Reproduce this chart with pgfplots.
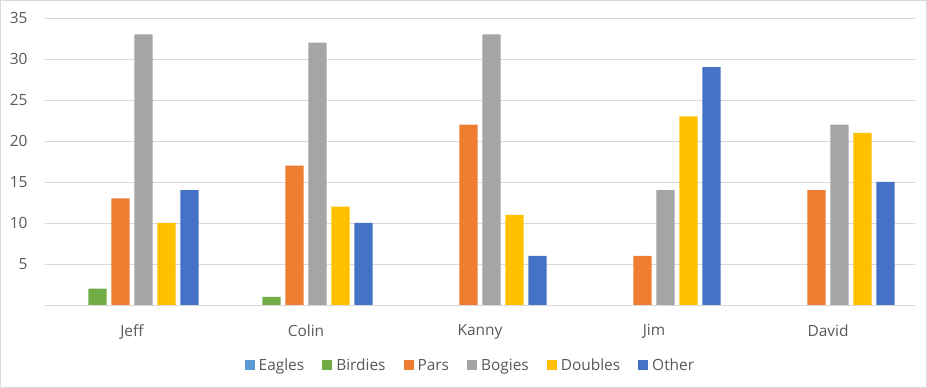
\documentclass[border=0pt]{standalone}
\usepackage{fontspec}
\setmainfont{Open Sans}
\usepackage{pgfplots}
\pgfplotsset{compat=1.18}
\definecolor{cEag}{HTML}{5B9BD5}
\definecolor{cBir}{HTML}{70AD47}
\definecolor{cPar}{HTML}{ED7D31}
\definecolor{cBog}{HTML}{A5A5A5}
\definecolor{cDou}{HTML}{FFC000}
\definecolor{cOth}{HTML}{4472C4}
\definecolor{txt}{HTML}{595959}
\definecolor{grd}{HTML}{D9D9D9}
\begin{document}
\begin{tikzpicture}
\useasboundingbox (0,0) rectangle (927bp,388bp);
\draw[grd, line width=1bp] (0.5bp,0.5bp) rectangle (926.5bp,387.5bp);
\begin{axis}[
  at={(45bp,83bp)}, anchor=south west,
  scale only axis, width=870bp, height=287bp,
  xmin=-0.5, xmax=4.5, ymin=0, ymax=35,
  xtick={0,1,2,3,4},
  xticklabels={Jeff,Colin,Kanny,Jim,David},
  ytick={5,10,15,20,25,30,35},
  major tick length=0,
  ymajorgrids, grid style={grd, line width=0.8bp},
  axis x line*=bottom, axis y line*=left,
  x axis line style={grd, line width=1bp, -},
  y axis line style={draw=none},
  tick label style={font=\fontsize{15.5}{18}\selectfont, text=txt},
  /pgf/number format/assume math mode=true,
  xticklabel style={yshift=-16bp},
  yticklabel style={xshift=-14bp},
  ybar, bar width=0.105,
  legend columns=6,
  legend style={draw=none, at={(0.489,-0.21)}, anchor=center,
    font=\fontsize{15.5}{18}\selectfont, text=txt,
    /tikz/every odd column/.append style={column sep=2bp},
    /tikz/every even column/.append style={column sep=16bp}},
  legend image code/.code={\fill[#1] (0bp,-5bp) rectangle (10bp,5bp);},
]
\addplot[fill=cEag, draw=none, bar shift=-0.33] coordinates {(0,0) (1,0) (2,0) (3,0) (4,0)};
\addplot[fill=cBir, draw=none, bar shift=-0.198] coordinates {(0,2) (1,1) (2,0) (3,0) (4,0)};
\addplot[fill=cPar, draw=none, bar shift=-0.066] coordinates {(0,13) (1,17) (2,22) (3,6) (4,14)};
\addplot[fill=cBog, draw=none, bar shift=0.066] coordinates {(0,33) (1,32) (2,33) (3,14) (4,22)};
\addplot[fill=cDou, draw=none, bar shift=0.198] coordinates {(0,10) (1,12) (2,11) (3,23) (4,21)};
\addplot[fill=cOth, draw=none, bar shift=0.33] coordinates {(0,14) (1,10) (2,6) (3,29) (4,15)};
\legend{Eagles,Birdies,Pars,Bogies,Doubles,Other}
\end{axis}
\end{tikzpicture}
\end{document}
